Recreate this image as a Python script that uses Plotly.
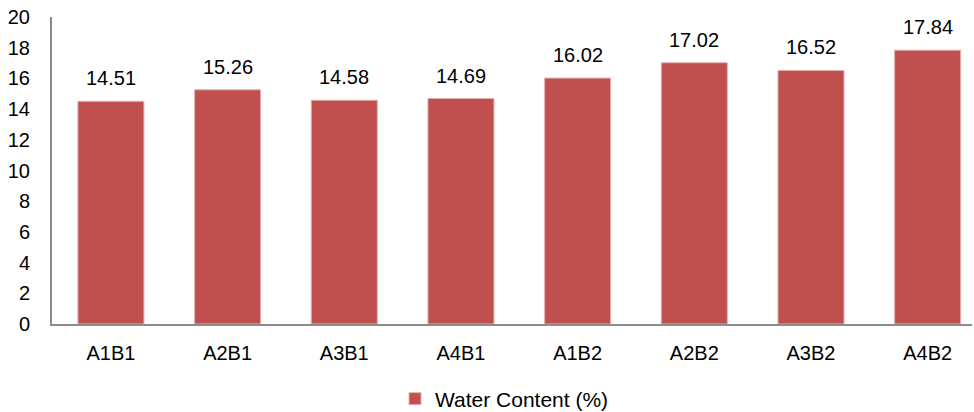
import plotly.graph_objects as go

categories = ["A1B1", "A2B1", "A3B1", "A4B1", "A1B2", "A2B2", "A3B2", "A4B2"]
water_content = [14.51, 15.26, 14.58, 14.69, 16.02, 17.02, 16.52, 17.84]
y_ticks = [0, 2, 4, 6, 8, 10, 12, 14, 16, 18, 20]

font_family = "Liberation Sans, Arial, sans-serif"
bar_color = "#C0504D"

fig = go.Figure()
fig.add_trace(go.Bar(
    x=categories,
    y=water_content,
    name="Water Content (%)",
    marker=dict(color=bar_color, line=dict(color="#E6B0AE", width=1)),
    width=0.566,
))

# value labels above each bar
for cat, val in zip(categories, water_content):
    fig.add_annotation(
        x=cat, y=val, xref="x", yref="y",
        text=f"{val:.2f}", showarrow=False,
        yanchor="bottom", yshift=10,
        font=dict(size=20, color="#000000", family=font_family),
    )

fig.update_layout(
    width=974,
    height=412,
    margin=dict(l=52, r=2, t=17, b=88),
    paper_bgcolor="white",
    plot_bgcolor="white",
    font=dict(family=font_family, size=20, color="#000000"),
    showlegend=True,
    legend=dict(
        orientation="h",
        xref="container", x=395 / 974, xanchor="left",
        yref="container", y=13 / 412, yanchor="middle",
        font=dict(size=21),
        itemwidth=30,
    ),
    xaxis=dict(
        range=[-0.505, 7.38],
        showline=True, linecolor="#8C8C8C", linewidth=2,
        ticks="", showgrid=False, tickfont=dict(size=20),
        ticklabelstandoff=10,
    ),
    yaxis=dict(
        range=[0, 20], tickvals=y_ticks,
        showline=True, linecolor="#8C8C8C", linewidth=2,
        ticks="", showgrid=False, zeroline=False,
        tickfont=dict(size=20), ticklabelstandoff=16,
    ),
)

fig.write_html("out.html")
